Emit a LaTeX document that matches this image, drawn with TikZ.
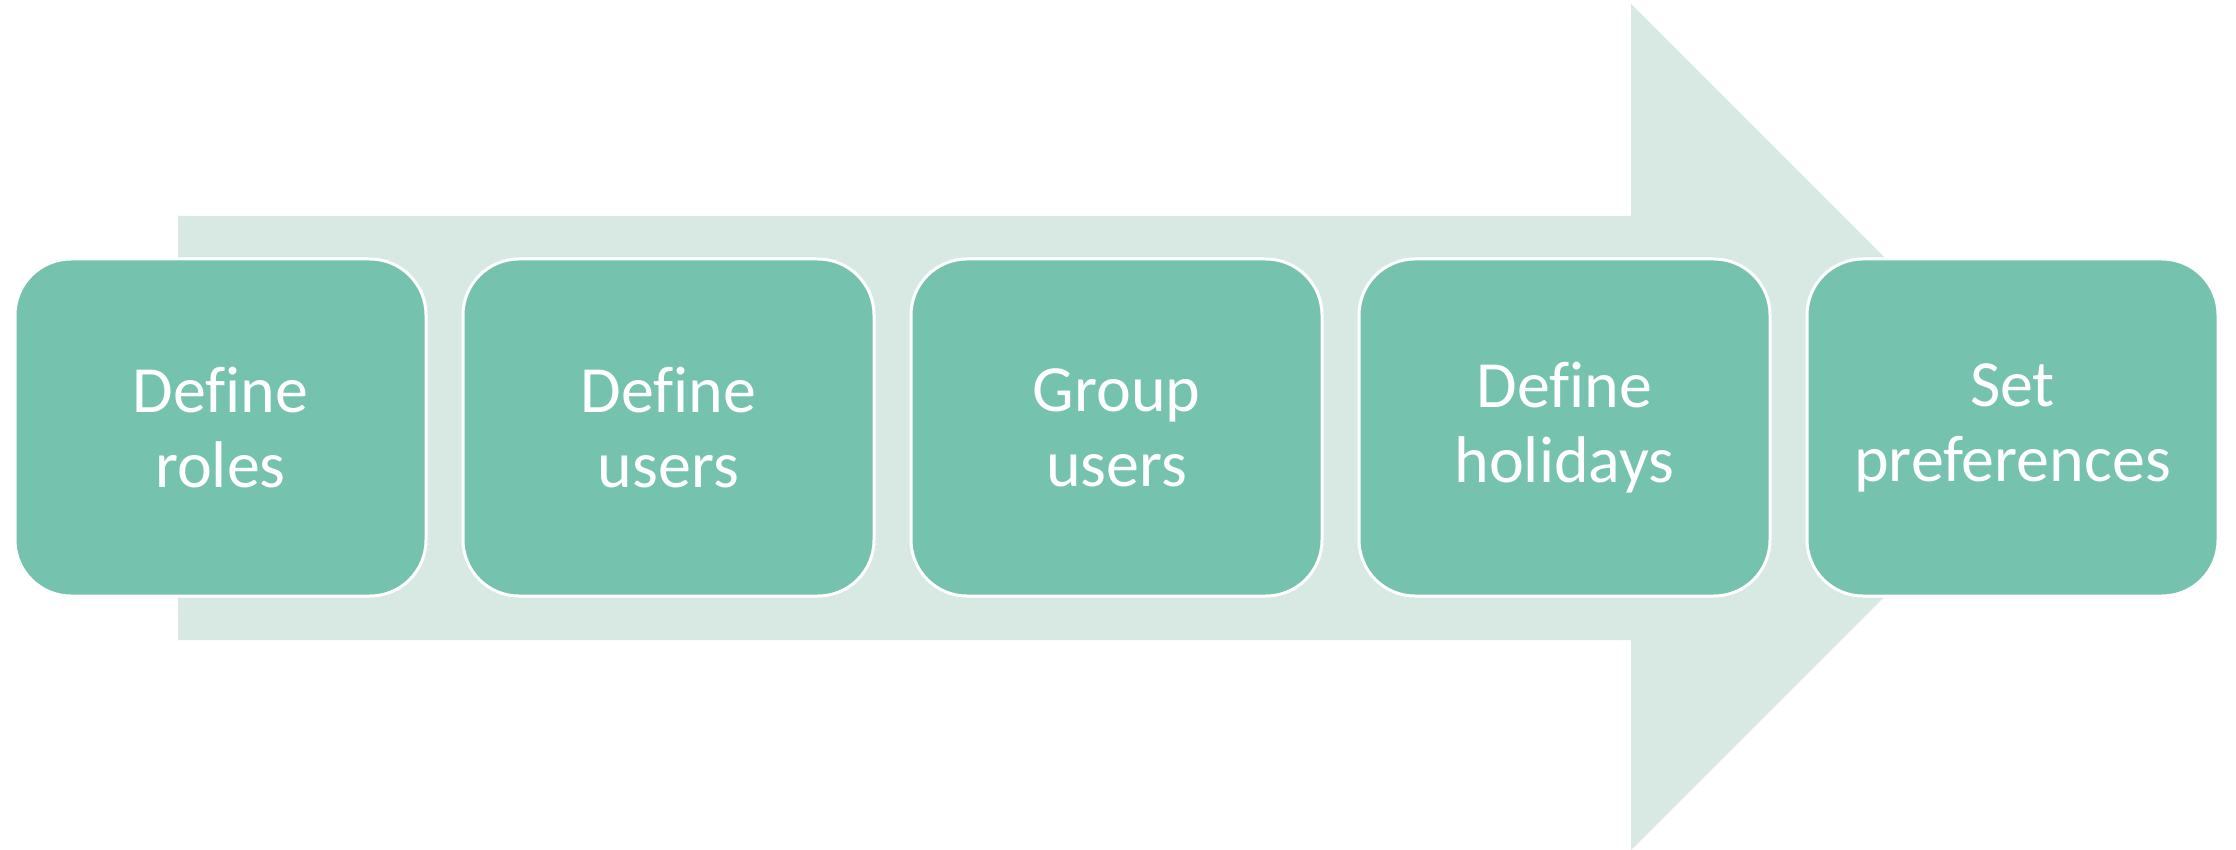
\documentclass[tikz,border=0pt]{standalone}
\usepackage{fontspec}
\setmainfont{Carlito}[Ligatures={NoCommon}]
\definecolor{boxc}{RGB}{117,194,174}
\definecolor{arrowc}{RGB}{216,233,227}
\tikzset{
  stepbox/.style={draw=white, line width=3pt, fill=boxc, rounded corners=56pt,
    minimum width=411pt, minimum height=337pt, inner sep=0pt,
    text=white, align=center, font=\fontsize{66}{75}\selectfont},
}
\begin{document}
\begin{tikzpicture}[x=1pt,y=-1pt]
\fill[white] (0,0) rectangle (2236,850);
\useasboundingbox (0,0) rectangle (2236,850);
\fill[arrowc] (178,216) -- (1631,216) -- (1631,4) -- (2054,427) -- (1631,850) -- (1631,640) -- (178,640) -- cycle;
\node[stepbox] (s1) at (220.5,427.5) {Define\\roles};
\node[stepbox] (s2) at (668.5,427.5) {Define\\users};
\node[stepbox] (s3) at (1116.5,427.5) {Group\\users};
\node[stepbox] (s4) at (1564.5,427.5) {Define\\holidays};
\node[stepbox] (s5) at (2012.5,427.5) {Set\\preferences};
\end{tikzpicture}
\end{document}
